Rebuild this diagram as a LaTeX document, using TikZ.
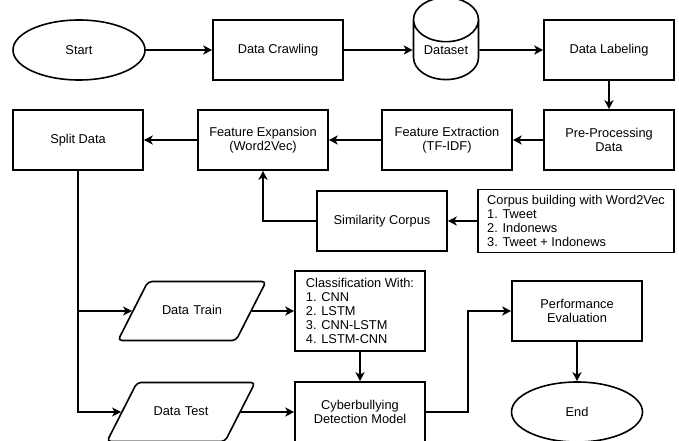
\documentclass[tikz,border=0pt]{standalone}
\usepackage{fontspec}
\setmainfont{Liberation Sans}
\usetikzlibrary{shapes.geometric,arrows.meta}
\begin{document}
\begin{tikzpicture}[x=1pt,y=-1pt]
\tikzset{edge/.style = {-{Stealth[length=9pt,width=9pt,inset=2.5pt]}, line width=1.6pt}}
\tikzstyle{every node}=[font=\fontsize{12.8}{14}\selectfont]
\tikzstyle{box}=[draw, line width=1.6pt, rectangle, minimum width=130pt, minimum height=60pt, inner sep=0pt, align=center]
\tikzstyle{term}=[draw, line width=1.6pt, ellipse, minimum width=132pt, minimum height=60pt, inner sep=0pt]
\tikzstyle{io}=[draw, line width=1.6pt, trapezium, trapezium left angle=63, trapezium right angle=117, text width=62pt, align=center, text height=10pt, text depth=3pt, inner xsep=13pt, inner ysep=23pt, rounded corners=4pt]
\tikzstyle{db}=[draw, line width=1.6pt, cylinder, shape border rotate=90, aspect=1, minimum width=65pt, minimum height=82pt, inner sep=0pt]
\useasboundingbox (0,0) rectangle (679,441);
\node [term] at (79,50)(St) {Start};
\node [box] at (278,50)(DC) {Data Crawling};
\node [db] at (446,50)(DS) {Dataset};
\node [box] at (609,50)(DL) {Data Labeling};
\node [box] at (609,140)(PP) {Pre-Processing\\Data};
\node [box] at (447,140)(FE) {Feature Extraction\\(TF-IDF)};
\node [box] at (263,140)(FX) {Feature Expansion\\(Word2Vec)};
\node [box] at (78,140)(SD) {Split Data};
\node [box] at (382,221)(SC) {Similarity Corpus};
\node [box, minimum width=196pt, minimum height=63pt, align=left] at (576,221)(CB) {Corpus building with Word2Vec\\1. Tweet\\2. Indonews\\3. Tweet + Indonews};
\node [io] at (192,311)(DTr) {Data Train};
\node [io] at (181,412)(DTe) {Data Test};
\node [box, minimum height=80pt, align=left] at (360,311)(CW) {Classification With:\\1. CNN\\2. LSTM\\3. CNN-LSTM\\4. LSTM-CNN};
\node [box] at (360,412)(CM) {Cyberbullying\\Detection Model};
\node [box] at (577,311)(PE) {Performance\\Evaluation};
\node [term, minimum width=131pt] at (577,412)(En) {End};
\coordinate (K) at (468,311);
\draw [edge] (St) -- (DC);
\draw [edge] (DC) -- (DS);
\draw [edge] (DS) -- (DL);
\draw [edge] (DL) -- (PP);
\draw [edge] (PP) -- (FE);
\draw [edge] (FE) -- (FX);
\draw [edge] (FX) -- (SD);
\draw [edge] (CB) -- (SC);
\draw [edge] (SC) -| (FX);
\draw [edge] (SD) |- (DTr);
\draw [edge] (SD) |- (DTe);
\draw [edge] (DTr) -- (CW);
\draw [edge] (DTe) -- (CM);
\draw [edge] (CW) -- (CM);
\draw [edge] (CM) -| (K) -- (PE);
\draw [edge] (PE) -- (En);
\end{tikzpicture}
\end{document}
